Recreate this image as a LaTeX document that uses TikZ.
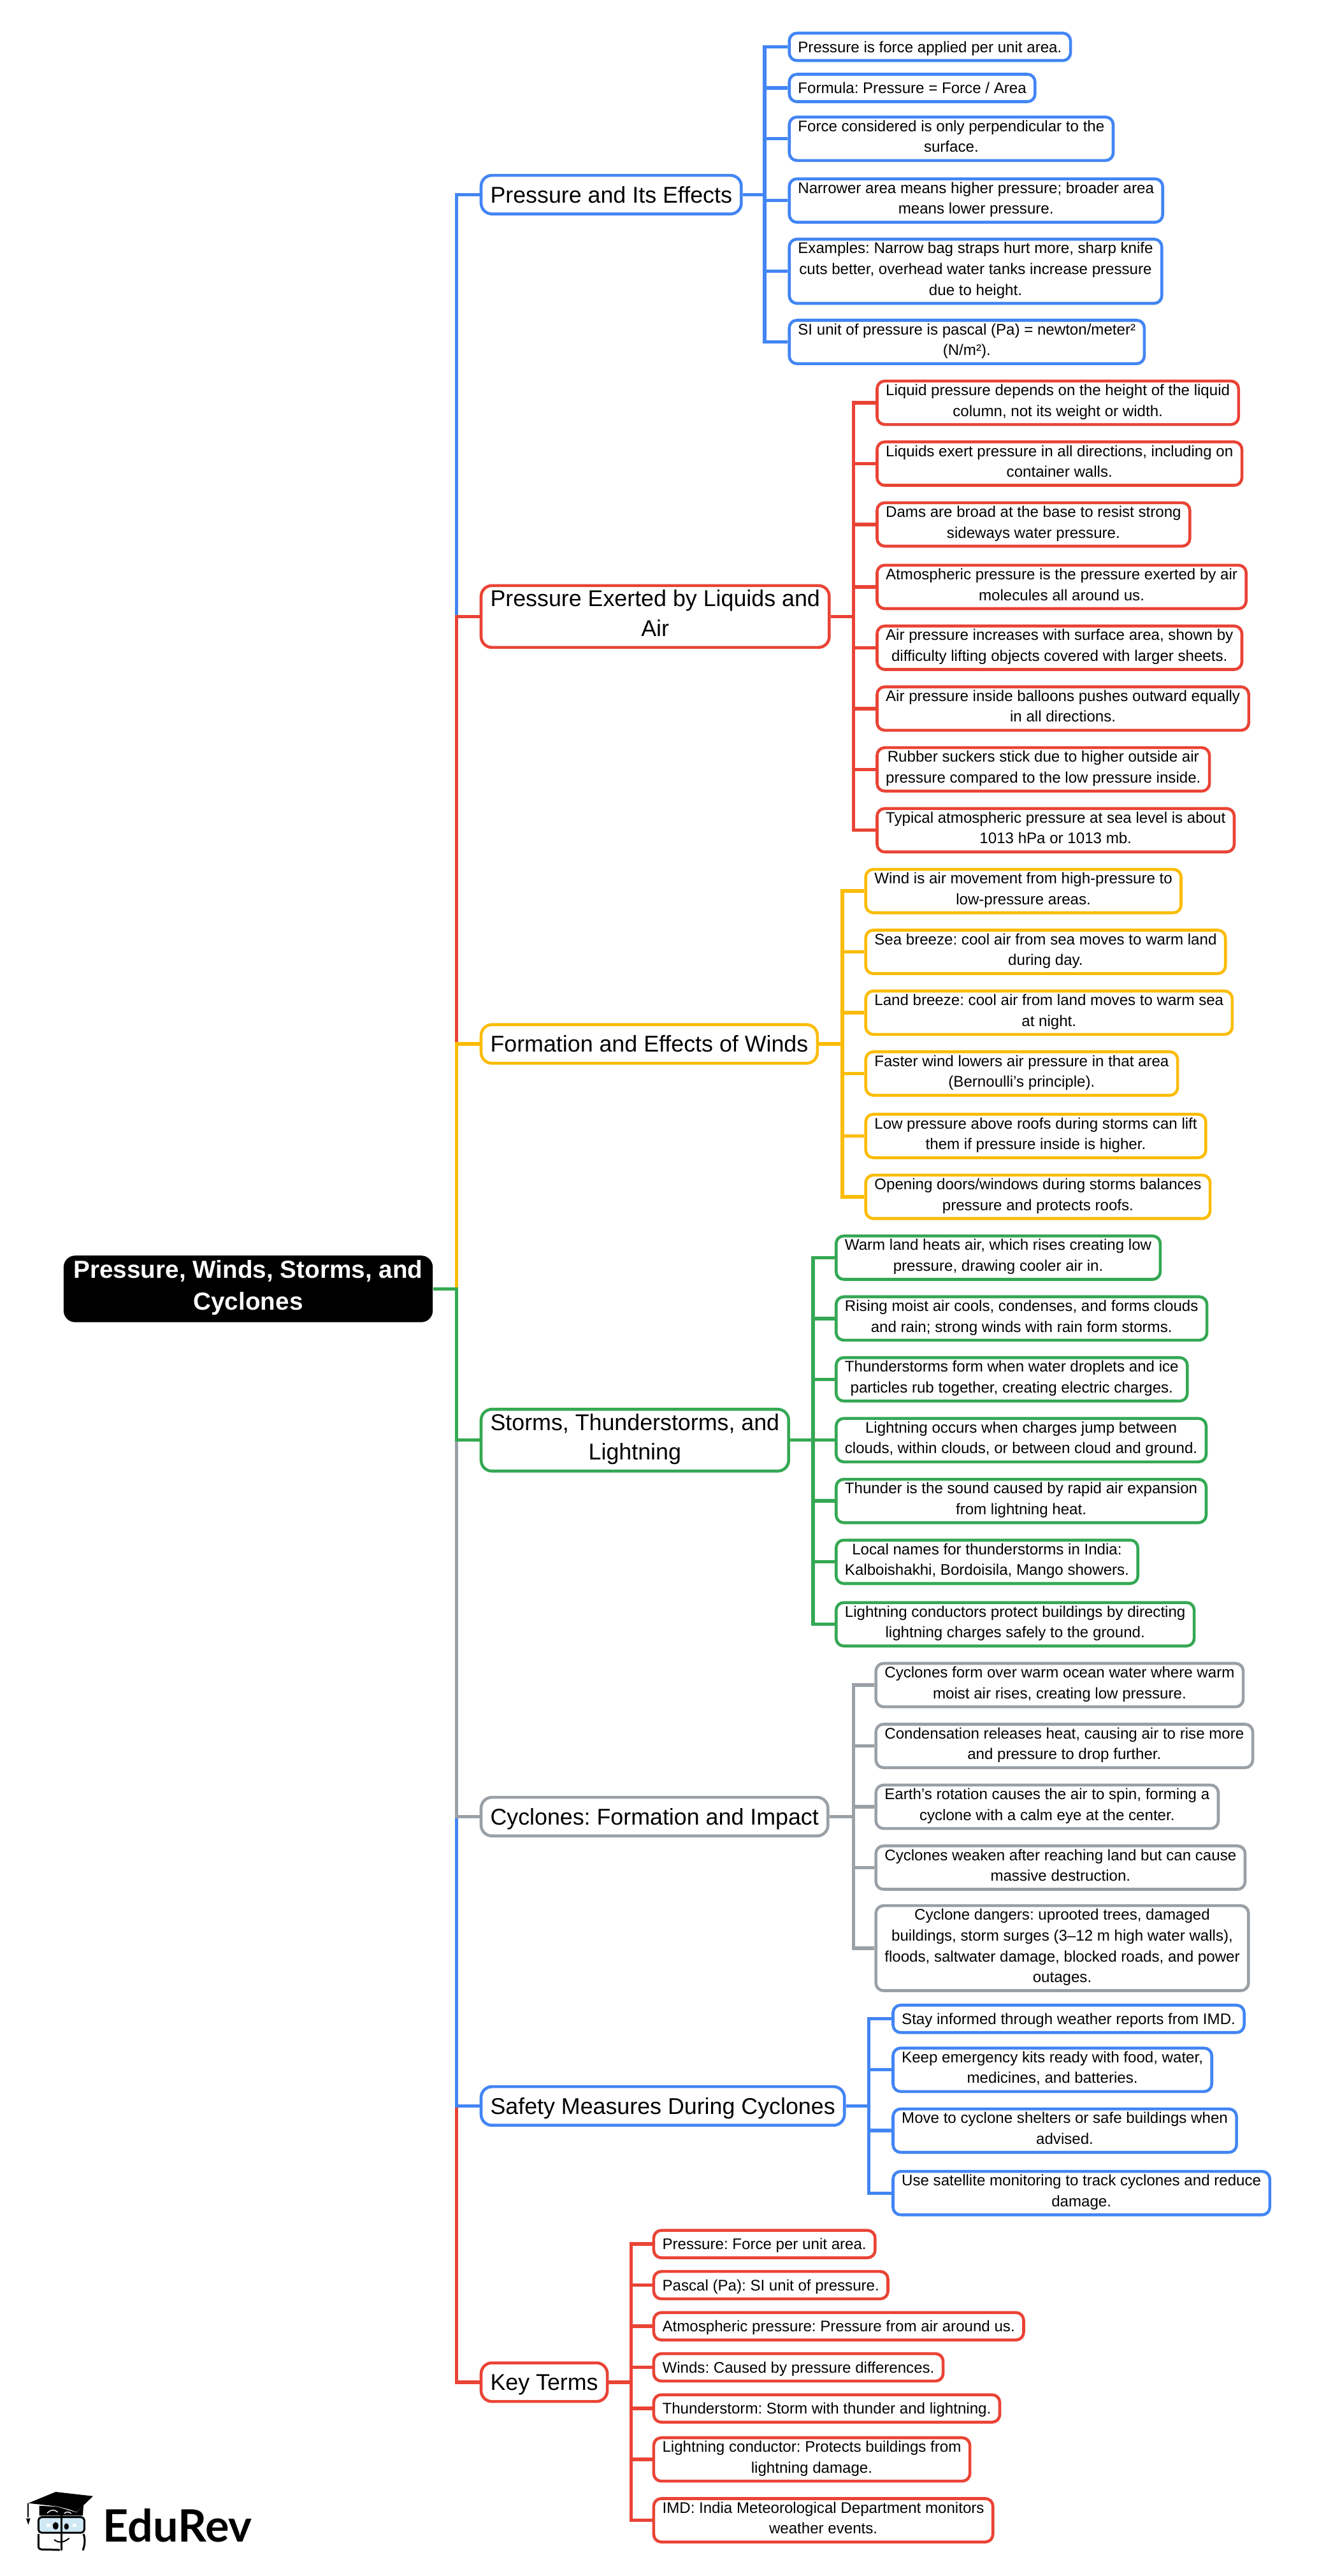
\documentclass[tikz,border=0pt]{standalone}
\usepackage{fontspec}
\setmainfont{Liberation Sans}
\newfontfamily\logofont{Lato}
\usepackage{xcolor}
\definecolor{mapblue}{HTML}{4285F4}
\definecolor{mapred}{HTML}{EA4335}
\definecolor{maporange}{HTML}{FBBC04}
\definecolor{mapgreen}{HTML}{34A853}
\definecolor{mapgrey}{HTML}{9AA0A6}
\definecolor{glass}{HTML}{CFE8F5}
\frenchspacing
\newcommand{\mapstrut}[2]{\rule[-#1]{0pt}{#2}}
\tikzset{
    rootbox/.style={fill=black, text=white, rounded corners=9pt, align=center,
        font=\fontsize{19.35}{25}\selectfont\bfseries, inner xsep=7.8pt, inner ysep=3.8pt,
        execute at begin node={\mapstrut{5.6pt}{25pt}}, execute at end node={\mapstrut{5.6pt}{25pt}}},
    branchbox/.style={draw=#1, fill=white, line width=2.3pt, rounded corners=8.5pt, align=center, anchor=west,
        font=\fontsize{17.9}{23.3}\selectfont, inner xsep=7.25pt, inner ysep=3.5pt,
        execute at begin node={\mapstrut{5.25pt}{23.3pt}}, execute at end node={\mapstrut{5.25pt}{23.3pt}}},
    leafbox/.style={draw=#1, fill=white, line width=2.3pt, rounded corners=6pt, align=center, anchor=west,
        font=\fontsize{12.05}{16.3}\selectfont, inner xsep=6.85pt, inner ysep=2.6pt,
        execute at begin node={\mapstrut{3.85pt}{16.3pt}}, execute at end node={\mapstrut{3.85pt}{16.3pt}}},
    link/.style={draw=#1, line width=2.7pt}
}

\begin{document}
\begin{tikzpicture}[x=1.2898pt, y=-1.2898pt]
    % Fix the page size
    \useasboundingbox (0pt,0pt) rectangle (1046pt,-2021pt);

    % Central topic and the trunk
    \node[rootbox] (root) at (151,784) {Pressure, Winds, Storms, and\\Cyclones};
    \coordinate (trunk) at (277.8,784);

    % Main branches
    \node[branchbox=mapblue] (press) at (291.8,118.4) {Pressure and Its Effects};
    \node[branchbox=mapred] (liquid) at (291.8,375) {Pressure Exerted by Liquids and\\Air};
    \node[branchbox=maporange] (wind) at (291.8,635) {Formation and Effects of Winds};
    \node[branchbox=mapgreen] (storm) at (291.8,876) {Storms, Thunderstorms, and\\Lightning};
    \node[branchbox=mapgrey] (cyclone) at (291.8,1105) {Cyclones: Formation and Impact};
    \node[branchbox=mapblue] (safety) at (291.8,1281) {Safety Measures During Cyclones};
    \node[branchbox=mapred] (terms) at (291.8,1449) {Key Terms};

    % Trunk connectors, the nearest branch drawn last
    \draw[link=mapblue] (root.east) -- (trunk) |- (press.west);
    \draw[link=mapred] (root.east) -- (trunk) |- (liquid.west);
    \draw[link=mapred] (root.east) -- (trunk) |- (terms.west);
    \draw[link=mapblue] (root.east) -- (trunk) |- (safety.west);
    \draw[link=mapgrey] (root.east) -- (trunk) |- (cyclone.west);
    \draw[link=maporange] (root.east) -- (trunk) |- (wind.west);
    \draw[link=mapgreen] (root.east) -- (trunk) |- (storm.west);

    % Pressure and its effects
    \coordinate (pressbus) at (465.2,118.4);
    \node[leafbox=mapblue] (press1) at (479.3,28.5) {Pressure is force applied per unit area.};
    \node[leafbox=mapblue] (press2) at (479.3,53.5) {Formula: Pressure = Force / Area};
    \node[leafbox=mapblue] (press3) at (479.3,84.4) {Force considered is only perpendicular to the\\surface.};
    \node[leafbox=mapblue] (press4) at (479.3,122) {Narrower area means higher pressure; broader area\\means lower pressure.};
    \node[leafbox=mapblue] (press5) at (479.3,165) {Examples: Narrow bag straps hurt more, sharp knife\\cuts better, overhead water tanks increase pressure\\due to height.};
    \node[leafbox=mapblue] (press6) at (479.3,208) {SI unit of pressure is pascal (Pa) = newton/meter²\\(N/m²).};
    \draw[link=mapblue] (press.east) -- (pressbus) |- (press1.west);
    \draw[link=mapblue] (press.east) -- (pressbus) |- (press2.west);
    \draw[link=mapblue] (press.east) -- (pressbus) |- (press3.west);
    \draw[link=mapblue] (press.east) -- (pressbus) |- (press4.west);
    \draw[link=mapblue] (press.east) -- (pressbus) |- (press5.west);
    \draw[link=mapblue] (press.east) -- (pressbus) |- (press6.west);

    % Liquids and air
    \coordinate (liquidbus) at (519.3,375);
    \node[leafbox=mapred] (liquid1) at (532.7,245) {Liquid pressure depends on the height of the liquid\\column, not its weight or width.};
    \node[leafbox=mapred] (liquid2) at (532.7,282) {Liquids exert pressure in all directions, including on\\container walls.};
    \node[leafbox=mapred] (liquid3) at (532.7,319) {Dams are broad at the base to resist strong\\sideways water pressure.};
    \node[leafbox=mapred] (liquid4) at (532.7,357) {Atmospheric pressure is the pressure exerted by air\\molecules all around us.};
    \node[leafbox=mapred] (liquid5) at (532.7,394) {Air pressure increases with surface area, shown by\\difficulty lifting objects covered with larger sheets.};
    \node[leafbox=mapred] (liquid6) at (532.7,431) {Air pressure inside balloons pushes outward equally\\in all directions.};
    \node[leafbox=mapred] (liquid7) at (532.7,468) {Rubber suckers stick due to higher outside air\\pressure compared to the low pressure inside.};
    \node[leafbox=mapred] (liquid8) at (532.7,505) {Typical atmospheric pressure at sea level is about\\1013 hPa or 1013 mb.};
    \draw[link=mapred] (liquid.east) -- (liquidbus) |- (liquid1.west);
    \draw[link=mapred] (liquid.east) -- (liquidbus) |- (liquid2.west);
    \draw[link=mapred] (liquid.east) -- (liquidbus) |- (liquid3.west);
    \draw[link=mapred] (liquid.east) -- (liquidbus) |- (liquid4.west);
    \draw[link=mapred] (liquid.east) -- (liquidbus) |- (liquid5.west);
    \draw[link=mapred] (liquid.east) -- (liquidbus) |- (liquid6.west);
    \draw[link=mapred] (liquid.east) -- (liquidbus) |- (liquid7.west);
    \draw[link=mapred] (liquid.east) -- (liquidbus) |- (liquid8.west);

    % Winds
    \coordinate (windbus) at (512.5,635);
    \node[leafbox=maporange] (wind1) at (525.8,542) {Wind is air movement from high-pressure to\\low-pressure areas.};
    \node[leafbox=maporange] (wind2) at (525.8,579) {Sea breeze: cool air from sea moves to warm land\\during day.};
    \node[leafbox=maporange] (wind3) at (525.8,616) {Land breeze: cool air from land moves to warm sea\\at night.};
    \node[leafbox=maporange] (wind4) at (525.8,653) {Faster wind lowers air pressure in that area\\(Bernoulli’s principle).};
    \node[leafbox=maporange] (wind5) at (525.8,691) {Low pressure above roofs during storms can lift\\them if pressure inside is higher.};
    \node[leafbox=maporange] (wind6) at (525.8,728) {Opening doors/windows during storms balances\\pressure and protects roofs.};
    \draw[link=maporange] (wind.east) -- (windbus) |- (wind1.west);
    \draw[link=maporange] (wind.east) -- (windbus) |- (wind2.west);
    \draw[link=maporange] (wind.east) -- (windbus) |- (wind3.west);
    \draw[link=maporange] (wind.east) -- (windbus) |- (wind4.west);
    \draw[link=maporange] (wind.east) -- (windbus) |- (wind5.west);
    \draw[link=maporange] (wind.east) -- (windbus) |- (wind6.west);

    % Storms
    \coordinate (stormbus) at (494.7,876);
    \node[leafbox=mapgreen] (storm1) at (507.8,765) {Warm land heats air, which rises creating low\\pressure, drawing cooler air in.};
    \node[leafbox=mapgreen] (storm2) at (507.8,802) {Rising moist air cools, condenses, and forms clouds\\and rain; strong winds with rain form storms.};
    \node[leafbox=mapgreen] (storm3) at (507.8,839) {Thunderstorms form when water droplets and ice\\particles rub together, creating electric charges.};
    \node[leafbox=mapgreen] (storm4) at (507.8,876) {Lightning occurs when charges jump between\\clouds, within clouds, or between cloud and ground.};
    \node[leafbox=mapgreen] (storm5) at (507.8,913) {Thunder is the sound caused by rapid air expansion\\from lightning heat.};
    \node[leafbox=mapgreen] (storm6) at (507.8,950) {Local names for thunderstorms in India:\\Kalboishakhi, Bordoisila, Mango showers.};
    \node[leafbox=mapgreen] (storm7) at (507.8,988) {Lightning conductors protect buildings by directing\\lightning charges safely to the ground.};
    \draw[link=mapgreen] (storm.east) -- (stormbus) |- (storm1.west);
    \draw[link=mapgreen] (storm.east) -- (stormbus) |- (storm2.west);
    \draw[link=mapgreen] (storm.east) -- (stormbus) |- (storm3.west);
    \draw[link=mapgreen] (storm.east) -- (stormbus) |- (storm4.west);
    \draw[link=mapgreen] (storm.east) -- (stormbus) |- (storm5.west);
    \draw[link=mapgreen] (storm.east) -- (stormbus) |- (storm6.west);
    \draw[link=mapgreen] (storm.east) -- (stormbus) |- (storm7.west);

    % Cyclones
    \coordinate (cyclonebus) at (519.3,1105);
    \node[leafbox=mapgrey] (cyclone1) at (532,1025) {Cyclones form over warm ocean water where warm\\moist air rises, creating low pressure.};
    \node[leafbox=mapgrey] (cyclone2) at (532,1062) {Condensation releases heat, causing air to rise more\\and pressure to drop further.};
    \node[leafbox=mapgrey] (cyclone3) at (532,1099) {Earth’s rotation causes the air to spin, forming a\\cyclone with a calm eye at the center.};
    \node[leafbox=mapgrey] (cyclone4) at (532,1136) {Cyclones weaken after reaching land but can cause\\massive destruction.};
    \node[leafbox=mapgrey] (cyclone5) at (532,1185) {Cyclone dangers: uprooted trees, damaged\\buildings, storm surges (3–12 m high water walls),\\floods, saltwater damage, blocked roads, and power\\outages.};
    \draw[link=mapgrey] (cyclone.east) -- (cyclonebus) |- (cyclone1.west);
    \draw[link=mapgrey] (cyclone.east) -- (cyclonebus) |- (cyclone2.west);
    \draw[link=mapgrey] (cyclone.east) -- (cyclonebus) |- (cyclone3.west);
    \draw[link=mapgrey] (cyclone.east) -- (cyclonebus) |- (cyclone4.west);
    \draw[link=mapgrey] (cyclone.east) -- (cyclonebus) |- (cyclone5.west);

    % Safety measures
    \coordinate (safetybus) at (528.5,1281);
    \node[leafbox=mapblue] (safety1) at (542.4,1228) {Stay informed through weather reports from IMD.};
    \node[leafbox=mapblue] (safety2) at (542.4,1259) {Keep emergency kits ready with food, water,\\medicines, and batteries.};
    \node[leafbox=mapblue] (safety3) at (542.4,1296) {Move to cyclone shelters or safe buildings when\\advised.};
    \node[leafbox=mapblue] (safety4) at (542.4,1334) {Use satellite monitoring to track cyclones and reduce\\damage.};
    \draw[link=mapblue] (safety.east) -- (safetybus) |- (safety1.west);
    \draw[link=mapblue] (safety.east) -- (safetybus) |- (safety2.west);
    \draw[link=mapblue] (safety.east) -- (safetybus) |- (safety3.west);
    \draw[link=mapblue] (safety.east) -- (safetybus) |- (safety4.west);

    % Key terms
    \coordinate (termsbus) at (384,1449);
    \node[leafbox=mapred] (terms1) at (396.8,1365) {Pressure: Force per unit area.};
    \node[leafbox=mapred] (terms2) at (396.8,1390) {Pascal (Pa): SI unit of pressure.};
    \node[leafbox=mapred] (terms3) at (396.8,1415) {Atmospheric pressure: Pressure from air around us.};
    \node[leafbox=mapred] (terms4) at (396.8,1440) {Winds: Caused by pressure differences.};
    \node[leafbox=mapred] (terms5) at (396.8,1465) {Thunderstorm: Storm with thunder and lightning.};
    \node[leafbox=mapred] (terms6) at (396.8,1496) {Lightning conductor: Protects buildings from\\lightning damage.};
    \node[leafbox=mapred] (terms7) at (396.8,1533) {IMD: India Meteorological Department monitors\\weather events.};
    \draw[link=mapred] (terms.east) -- (termsbus) |- (terms1.west);
    \draw[link=mapred] (terms.east) -- (termsbus) |- (terms2.west);
    \draw[link=mapred] (terms.east) -- (termsbus) |- (terms3.west);
    \draw[link=mapred] (terms.east) -- (termsbus) |- (terms4.west);
    \draw[link=mapred] (terms.east) -- (termsbus) |- (terms5.west);
    \draw[link=mapred] (terms.east) -- (termsbus) |- (terms6.west);
    \draw[link=mapred] (terms.east) -- (termsbus) |- (terms7.west);

    % Logo in the lower left corner
    \begin{scope}[x=0.16667pt, y=-0.16667pt, shift={(0pt,-1900pt)}]
        \fill (133,383) -- (262,330) -- (438,350) -- (360,425) -- (325,412) -- (270,398) -- cycle;
        \fill (185,395) -- (270,400) -- (360,427) -- (393,392) -- (390,442) -- (185,442) -- cycle;
        \draw[line width=1pt] (133,383) -- (133,450);
        \fill (123,455) -- (143,455) -- (133,485) -- cycle;
        \draw[white, line width=0.7pt] (222,430) .. controls (240,412) and (255,412) .. (272,425);
        \draw[white, line width=0.7pt] (302,432) .. controls (312,422) and (325,422) .. (335,432);
        \draw[fill=glass, line width=1.5pt, rounded corners=2.5pt] (181,449) rectangle (397,522);
        \draw[line width=1.5pt] (181,528) -- (181,585) .. controls (181,598) and (190,601) .. (200,601) -- (282,603);
        \draw[line width=1.5pt] (393,528) .. controls (402,550) and (400,580) .. (390,605);
        \draw[line width=1.5pt] (290,442) -- (290,606);
        \draw[line width=1pt] (255,555) .. controls (280,575) and (305,565) .. (326,548);
        \fill (262,490) ellipse [x radius=13, y radius=18];
        \fill (313,493) ellipse [x radius=11, y radius=15];
        \fill[white] (220,479) rectangle (238,496);
        \fill[white] (342,479) rectangle (360,496);
        \node[anchor=base west, inner sep=0pt, font=\fontsize{35}{35}\logofont\bfseries] (brand) at (484,565) {EduRev};
    \end{scope}
\end{tikzpicture}
\end{document}
